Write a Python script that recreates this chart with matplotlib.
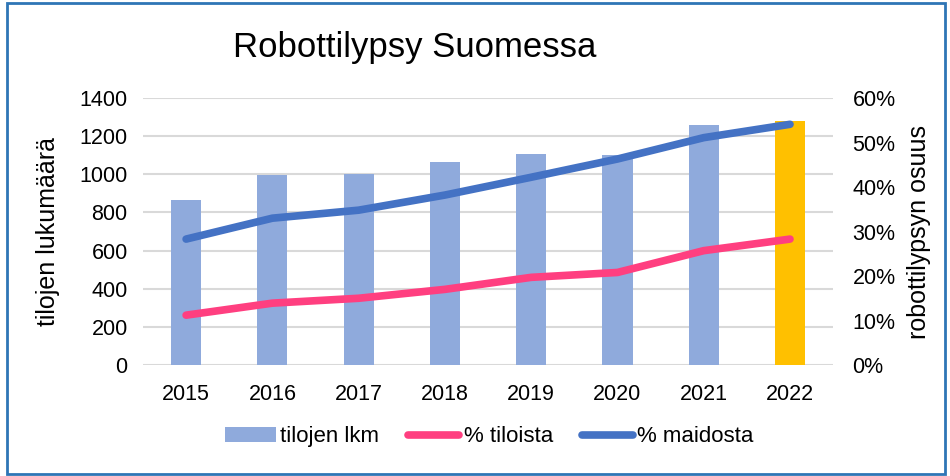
import matplotlib
matplotlib.use("Agg")
import matplotlib.pyplot as plt
from matplotlib.patches import Rectangle
from matplotlib.ticker import FuncFormatter

years = ["2015", "2016", "2017", "2018", "2019", "2020", "2021", "2022"]
tilojen_lkm = [865, 998, 1000, 1064, 1106, 1102, 1257, 1280]
pct_tiloista = [11.2, 13.9, 15.0, 17.0, 19.7, 20.8, 25.7, 28.3]
pct_maidosta = [28.3, 33.0, 34.8, 38.2, 42.2, 46.3, 51.1, 54.1]

bar_colors = ["#8FAADC"] * 7 + ["#FFC000"]

plt.rcParams['font.family'] = ['Liberation Sans', 'DejaVu Sans']

fig = plt.figure(figsize=(9.5, 4.76), dpi=100)
ax = fig.add_axes([0.1505, 0.2332, 0.7265, 0.5608])
x = list(range(len(years)))
bars = ax.bar(x, tilojen_lkm, width=0.35, color=bar_colors, zorder=2, label="tilojen lkm")
ax.set_xlim(-0.5, 7.5)
ax.set_ylim(0, 1400)
ax.set_yticks(range(0, 1401, 200))
ax.set_xticks(x)
ax.set_xticklabels(years)
ax.grid(axis='y', color='#D9D9D9', linewidth=1.5, zorder=0)
ax.set_axisbelow(True)
for s in ax.spines.values():
    s.set_visible(False)
ax.tick_params(length=0, labelsize=15.5, colors='black')
ax.tick_params(axis='x', pad=14)
ax.tick_params(axis='y', pad=11)
ax.set_ylabel("tilojen lukumäärä", fontsize=18, labelpad=14)

ax2 = ax.twinx()
l1, = ax2.plot(x, pct_tiloista, color='#FF3F80', linewidth=5.5, solid_capstyle='round', label="% tiloista", zorder=3)
l2, = ax2.plot(x, pct_maidosta, color='#4472C4', linewidth=5.5, solid_capstyle='round', label="% maidosta", zorder=3)
ax2.set_ylim(0, 60)
ax2.set_yticks(range(0, 61, 10))
ax2.yaxis.set_major_formatter(FuncFormatter(lambda v, p: f"{int(v)}%"))
for s in ax2.spines.values():
    s.set_visible(False)
ax2.tick_params(length=0, labelsize=15.5, colors='black', pad=14)
ax2.set_ylabel("robottilypsyn osuus", fontsize=18, rotation=90, labelpad=8)

fig.text(0.437, 0.9, "Robottilypsy Suomessa", fontsize=25, ha='center', va='center')

fig.legend([bars, l1, l2], ["tilojen lkm", "% tiloista", "% maidosta"],
           loc='center', bbox_to_anchor=(0.515, 0.082), ncol=3, frameon=False,
           fontsize=16, handlelength=2.3, handletextpad=0.2, columnspacing=1.3)

fig.patches.append(Rectangle((0.007, 0.004), 0.988, 0.99, transform=fig.transFigure,
                             fill=False, edgecolor='#2E75B6', linewidth=2))

fig.savefig("out.png", dpi=100)
